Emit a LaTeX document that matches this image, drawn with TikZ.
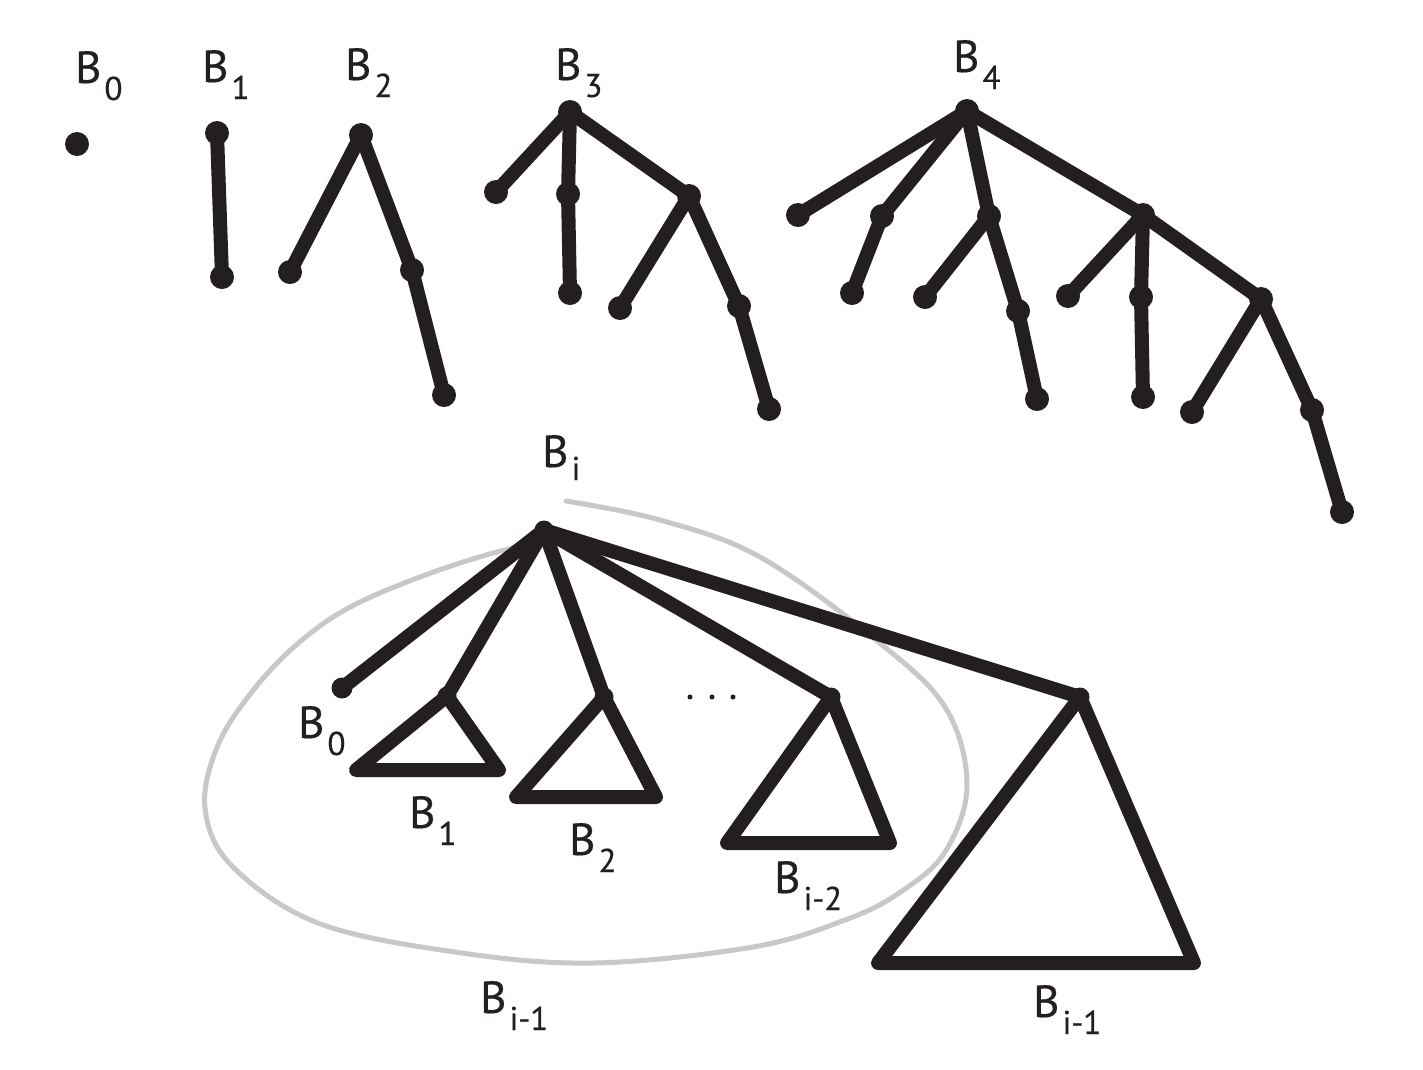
\documentclass[tikz,border=0pt]{standalone}
\usepackage{fontspec}
\setmainfont{PT Sans}[UprightFeatures={FakeBold=0.5}]
\definecolor{ink}{HTML}{231F20}
\definecolor{lasso}{HTML}{C8C8C8}
\newcommand\Blab[1]{B\kern3pt\raisebox{-17pt}{\fontsize{33}{33}\selectfont #1}}
\begin{document}
\begin{tikzpicture}[x=1pt,y=-1pt,
  edge/.style={draw=ink,line width=14pt,line cap=round,line join=round},
  dot/.style={circle,fill=ink,inner sep=0pt,minimum size=24pt},
  sdot/.style={circle,fill=ink,inner sep=0pt,minimum size=19pt},
  tdot/.style={circle,fill=ink,inner sep=0pt,minimum size=5pt},
  lab/.style={anchor=base west,inner sep=0pt,text=ink,font=\fontsize{45}{50}\selectfont}]
\useasboundingbox (0,0) rectangle (1423,1069);
% lasso
\draw[lasso,line width=5pt,line cap=round] plot[smooth,tension=0.6] coordinates {
 (566,501) (660,520) (760,557) (876,640) (945,707) (967,785) (945,852) (899,893)
 (845,920) (753,947) (593,963) (455,952) (318,923) (232,866) (205,808) (218,745)
 (255,688) (302,640) (358,603) (448,567) (528,545) (585,543)};
% B0
\node[dot] (a0) at (77,144) {};
% B1
\node[dot] (b0) at (217,133) {};
\node[dot] (b1) at (222,277) {};
\draw[edge] (b0.center) -- (b1.center);
% B2
\node[dot] (c0) at (361,135) {};
\node[dot] (c1) at (290,272) {};
\node[dot] (c2) at (412,270) {};
\node[dot] (c3) at (444,395) {};
\draw[edge] (c1.center) -- (c0.center) -- (c2.center) -- (c3.center);
% B3
\node[dot] (d0) at (570,112) {};
\node[dot] (d1) at (496,192) {};
\node[dot] (d2) at (568,194) {};
\node[dot] (d2a) at (570,293) {};
\node[dot] (d3) at (689,196) {};
\node[dot] (d3a) at (620,308) {};
\node[dot] (d3b) at (739,306) {};
\node[dot] (d3c) at (769,409) {};
\draw[edge] (d0.center) -- (d1.center);
\draw[edge] (d0.center) -- (d2.center) -- (d2a.center);
\draw[edge] (d0.center) -- (d3.center) -- (d3a.center);
\draw[edge] (d3.center) -- (d3b.center) -- (d3c.center);
% B4
\node[dot] (e0) at (967,111) {};
\node[dot] (e1) at (798,215) {};
\node[dot] (e2) at (882,216) {};
\node[dot] (e2a) at (852,293) {};
\node[dot] (e3) at (989,216) {};
\node[dot] (e3a) at (925,297) {};
\node[dot] (e3b) at (1018,311) {};
\node[dot] (e3c) at (1037,399) {};
\node[dot] (e4) at (1143,215) {};
\node[dot] (e4a) at (1068,296) {};
\node[dot] (e4b) at (1141,297) {};
\node[dot] (e4c) at (1143,397) {};
\node[dot] (e4d) at (1261,299) {};
\node[dot] (e4e) at (1192,412) {};
\node[dot] (e4f) at (1312,410) {};
\node[dot] (e4g) at (1342,512) {};
\draw[edge] (e0.center) -- (e1.center);
\draw[edge] (e0.center) -- (e2.center) -- (e2a.center);
\draw[edge] (e0.center) -- (e3.center) -- (e3a.center);
\draw[edge] (e3.center) -- (e3b.center) -- (e3c.center);
\draw[edge] (e0.center) -- (e4.center) -- (e4a.center);
\draw[edge] (e4.center) -- (e4b.center) -- (e4c.center);
\draw[edge] (e4.center) -- (e4d.center) -- (e4e.center);
\draw[edge] (e4d.center) -- (e4f.center) -- (e4g.center);
% top labels
\node[lab] (l0) at (75,83) {\Blab{0}};
\node[lab] (l1) at (202,82) {\Blab{1}};
\node[lab] (l2) at (345,80) {\Blab{2}};
\node[lab] (l3) at (555,80) {\Blab{3}};
\node[lab] (l4) at (953,72) {\Blab{4}};
% B_i
\node[sdot] (r) at (544,530) {};
\node[dot,minimum size=21pt] (z0) at (342,688) {};
\node[sdot] (t1) at (447,696) {};
\node[sdot] (t2) at (604,697) {};
\node[sdot] (t3) at (831,697) {};
\node[sdot] (t4) at (1080,697) {};
\coordinate (t1l) at (356,770); \coordinate (t1r) at (499,770);
\coordinate (t2l) at (516,797); \coordinate (t2r) at (656,797);
\coordinate (t3l) at (727,843); \coordinate (t3r) at (890,843);
\coordinate (t4l) at (878,963); \coordinate (t4r) at (1194,963);
\draw[edge] (r.center) -- (z0.center);
\draw[edge] (r.center) -- (t1.center);
\draw[edge] (r.center) -- (t2.center);
\draw[edge] (r.center) -- (t3.center);
\draw[edge] (r.center) -- (t4.center);
\draw[edge,line cap=butt] (t1.center) -- (t1l) -- (t1r) -- cycle;
\draw[edge,line cap=butt] (t2.center) -- (t2l) -- (t2r) -- cycle;
\draw[edge,line cap=butt] (t3.center) -- (t3l) -- (t3r) -- cycle;
\draw[edge,line cap=butt] (t4.center) -- (t4l) -- (t4r) -- cycle;
\node[tdot] (p1) at (690,697) {};
\node[tdot] (p2) at (712,697) {};
\node[tdot] (p3) at (733,697) {};
% bottom labels
\node[lab] (li) at (542,467) {B\kern3pt\raisebox{-13pt}{\fontsize{33}{33}\selectfont i}};
\node[lab] (m0) at (298,738) {\Blab{0}};
\node[lab] (m1) at (409,828) {\Blab{1}};
\node[lab] (m2) at (569,855) {\Blab{2}};
\node[lab] (m3) at (774,893) {\Blab{i-2}};
\node[lab] (m4) at (480,1013) {\Blab{i-1}};
\node[lab] (m5) at (1033,1017) {\Blab{i-1}};
\end{tikzpicture}
\end{document}
